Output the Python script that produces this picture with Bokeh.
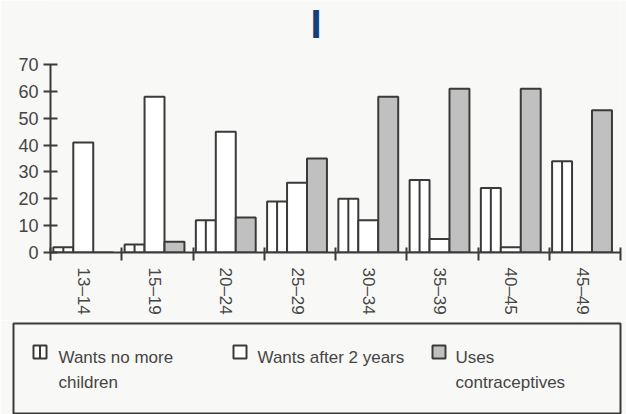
from bokeh.plotting import figure
from bokeh.models import FixedTicker, Range1d
from bokeh.layouts import column
from bokeh.embed import file_html
from bokeh.resources import INLINE
from bokeh.core.properties import value

# ---- data ----
age_groups = ["13–14", "15–19", "20–24", "25–29", "30–34", "35–39", "40–45", "45–49"]
wants_no_more = [2, 3, 12, 19, 20, 27, 24, 34]
wants_after_2 = [41, 58, 45, 26, 12, 5, 2, 0]
uses_contra = [0, 4, 13, 35, 58, 61, 61, 53]
y_ticks = [0, 10, 20, 30, 40, 50, 60, 70]
legend_line1 = ["Wants no more", "Wants after 2 years", "Uses"]
legend_line2 = ["children", "", "contraceptives"]

# ---- style ----
PAPER = "#f8f8f6"
INK = "#3a3a3a"
TXT = "#454545"
GREY = "#c0c0c0"
FONT = "Liberation Sans"

n = len(age_groups)
bar_w = 0.28
shift = 0.46
idx = list(range(n))
x_no = [i + shift - bar_w for i in idx]
x_after = [i + shift for i in idx]
x_use = [i + shift + bar_w for i in idx]

# frame: x 50..620 px, y 0..252 px (value 70 sits at 64 px)
y_top = 70 * 252 / (252 - 64)
p = figure(width=626, height=320, output_backend="svg", toolbar_location=None,
           x_range=Range1d(0, n), y_range=Range1d(0, y_top),
           min_border_left=50, min_border_right=6, min_border_top=0, min_border_bottom=68,
           background_fill_color=PAPER, border_fill_color=PAPER, outline_line_color=None)
p.frame_align = False
p.grid.visible = False

p.vbar(x=x_no, top=wants_no_more, width=bar_w, bottom=0, fill_color="white",
       line_color=INK, line_width=2)
p.segment(x0=x_no, y0=[0] * n, x1=x_no, y1=wants_no_more, line_color=INK, line_width=2)
p.vbar(x=x_after, top=wants_after_2, width=bar_w, bottom=0, fill_color="white",
       line_color=INK, line_width=2)
p.vbar(x=x_use, top=uses_contra, width=bar_w, bottom=0, fill_color=GREY,
       line_color=INK, line_width=2)

# small blue mark at the top of the page (decoration from the scan)
p.text(x=[3.726], y=[y_top * (252 - 23.5) / 252], text=["I"], text_align="center",
       text_baseline="alphabetic", text_font=value(FONT), text_font_style="bold",
       text_font_size="40px", text_color="#15407a")

xa = p.xaxis[0]
xa.ticker = FixedTicker(ticks=[i + shift for i in idx], minor_ticks=list(range(0, n + 1)))
xa.major_label_overrides = {i + shift: lab for i, lab in zip(idx, age_groups)}
xa.major_label_orientation = "vertical"
xa.major_tick_line_color = None
xa.major_tick_out = 8
xa.major_tick_in = 0
xa.minor_tick_line_color = INK
xa.minor_tick_line_width = 2
xa.minor_tick_out = 8
xa.minor_tick_in = 5
xa.axis_line_color = INK
xa.axis_line_width = 2
xa.major_label_standoff = 7
xa.major_label_text_font = FONT
xa.major_label_text_font_size = "17px"
xa.major_label_text_color = TXT

ya = p.yaxis[0]
ya.ticker = FixedTicker(ticks=y_ticks)
ya.bounds = (0, 70)
ya.minor_tick_line_color = None
ya.major_tick_in = 7
ya.major_tick_out = 7
ya.major_tick_line_color = INK
ya.major_tick_line_width = 2
ya.axis_line_color = INK
ya.axis_line_width = 2
ya.major_label_standoff = 5
ya.major_label_text_font = FONT
ya.major_label_text_font_size = "18px"
ya.major_label_text_color = TXT

# ---- legend panel (page-like coordinates) ----
lg = figure(width=626, height=94, output_backend="svg", toolbar_location=None,
            x_range=Range1d(13, 620), y_range=Range1d(414, 323),
            min_border_left=13, min_border_right=6, min_border_top=3, min_border_bottom=0,
            x_axis_location=None, y_axis_location=None,
            background_fill_color=PAPER, border_fill_color=PAPER,
            outline_line_color=INK, outline_line_width=2)
lg.frame_align = False
lg.grid.visible = False

icon_x = [39.5, 239.5, 438.5]
text_x = [58, 257, 455]
icon_y = 351.5
icon_fill = ["white", "white", GREY]
lg.rect(x=icon_x, y=[icon_y] * 3, width=13, height=13, fill_color=icon_fill,
        line_color=INK, line_width=2)
lg.segment(x0=[icon_x[0]], y0=[icon_y - 6.5], x1=[icon_x[0]], y1=[icon_y + 6.5],
           line_color=INK, line_width=2)
lg.text(x=text_x, y=[357] * 3, text=legend_line1, text_font=value(FONT),
        text_font_size="17px", text_color=TXT, text_baseline="alphabetic")
lg.text(x=text_x, y=[382] * 3, text=legend_line2, text_font=value(FONT),
        text_font_size="17px", text_color=TXT, text_baseline="alphabetic")

layout = column(p, lg, spacing=0)
open("out.html", "w").write(file_html(layout, INLINE))
